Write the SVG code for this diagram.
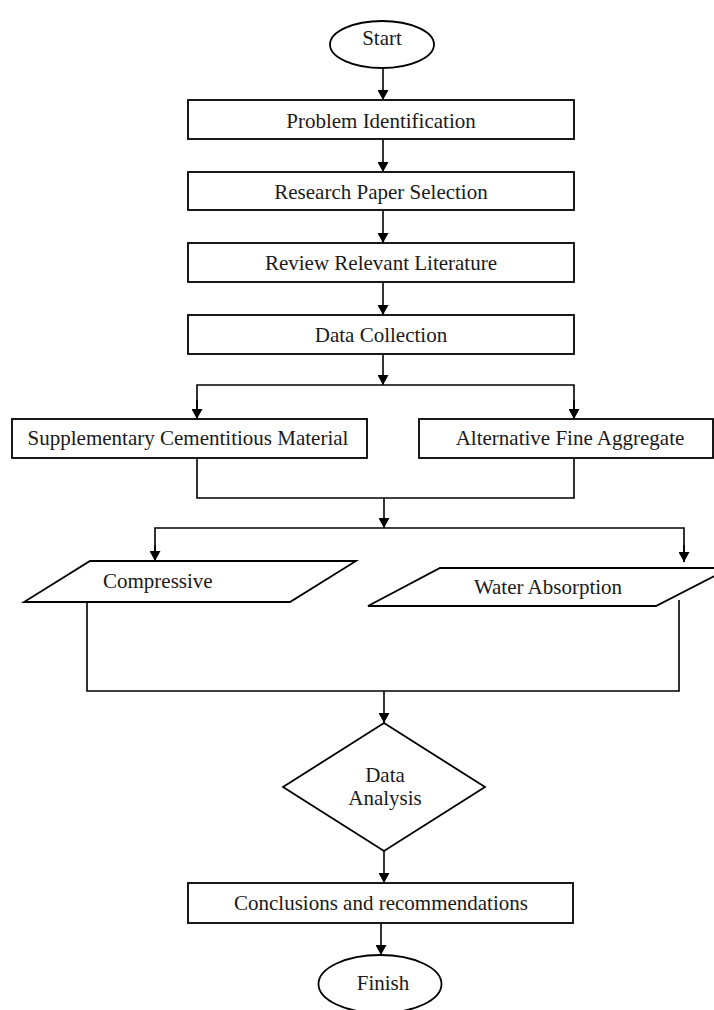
<svg xmlns="http://www.w3.org/2000/svg" width="714" height="1010" viewBox="0 0 714 1010">
<style>
.s{fill:#fff;stroke:#000;stroke-width:1.8}
.t{font-family:"Liberation Serif","Times New Roman",serif;font-size:21px;fill:#1a1a1a;text-anchor:middle}
.c{fill:none;stroke:#000;stroke-width:1.6}
</style>
<defs>
<marker id="ah" markerUnits="userSpaceOnUse" markerWidth="10" markerHeight="11" refX="10" refY="5.5" orient="auto">
<path d="M0,0 L10,5.5 L0,11 z" fill="#000"/>
</marker>
</defs>
<rect width="714" height="1010" fill="#fff"/>
<g id="connectors">
<line class="c" x1="383" y1="68" x2="383" y2="100" marker-end="url(#ah)"/>
<line class="c" x1="383" y1="139" x2="383" y2="172" marker-end="url(#ah)"/>
<line class="c" x1="383" y1="210" x2="383" y2="243" marker-end="url(#ah)"/>
<line class="c" x1="383" y1="282" x2="383" y2="315" marker-end="url(#ah)"/>
<line class="c" x1="383" y1="354" x2="383" y2="385" marker-end="url(#ah)"/>
<polyline class="c" points="197,419 197,385 574,385 574,419"/>
<line class="c" x1="197" y1="400" x2="197" y2="419" marker-end="url(#ah)"/>
<line class="c" x1="574" y1="400" x2="574" y2="419" marker-end="url(#ah)"/>
<polyline class="c" points="197,458 197,498 574,498 574,458"/>
<line class="c" x1="384" y1="498" x2="384" y2="528" marker-end="url(#ah)"/>
<polyline class="c" points="155,561 155,528 684,528 684,562"/>
<line class="c" x1="155" y1="545" x2="155" y2="561" marker-end="url(#ah)"/>
<line class="c" x1="684" y1="545" x2="684" y2="562" marker-end="url(#ah)"/>
<polyline class="c" points="87,602 87,691 679,691 679,600"/>
<line class="c" x1="384" y1="691" x2="384" y2="723" marker-end="url(#ah)"/>
<line class="c" x1="384" y1="851" x2="384" y2="883" marker-end="url(#ah)"/>
<line class="c" x1="381" y1="923" x2="381" y2="955" marker-end="url(#ah)"/>
</g>
<g id="start">
<ellipse class="s" cx="382" cy="44.5" rx="52" ry="23.5"/>
<text class="t" x="382" y="45">Start</text>
</g>
<g id="problem">
<rect class="s" x="188" y="100" width="386" height="39"/>
<text class="t" x="381" y="127.5">Problem Identification</text>
</g>
<g id="research">
<rect class="s" x="188" y="172" width="386" height="38"/>
<text class="t" x="381" y="199">Research Paper Selection</text>
</g>
<g id="review">
<rect class="s" x="188" y="243" width="386" height="39"/>
<text class="t" x="381" y="270">Review Relevant Literature</text>
</g>
<g id="data-collection">
<rect class="s" x="188" y="315" width="386" height="39"/>
<text class="t" x="381" y="342">Data Collection</text>
</g>
<g id="scm">
<rect class="s" x="12" y="419" width="355" height="39"/>
<text class="t" x="188" y="445">Supplementary Cementitious Material</text>
</g>
<g id="afa">
<rect class="s" x="419" y="419" width="294" height="39"/>
<text class="t" x="570" y="445">Alternative Fine Aggregate</text>
</g>
<g id="compressive">
<polygon class="s" points="90,561 356,561 290,602 24,602"/>
<text class="t" x="103" y="588" style="text-anchor:start">Compressive</text>
</g>
<g id="water">
<polygon class="s" points="440,568 730,568 656,606 368,606"/>
<text class="t" x="548" y="594">Water Absorption</text>
</g>
<g id="analysis">
<polygon class="s" points="384,723 485,787 384,851 283,787"/>
<text class="t" x="385" y="782">Data</text>
<text class="t" x="385" y="805">Analysis</text>
</g>
<g id="conclusions">
<rect class="s" x="188" y="883" width="385" height="40"/>
<text class="t" x="381" y="910">Conclusions and recommendations</text>
</g>
<g id="finish">
<ellipse class="s" cx="380" cy="984" rx="61.5" ry="29"/>
<text class="t" x="383" y="990">Finish</text>
</g>
</svg>
